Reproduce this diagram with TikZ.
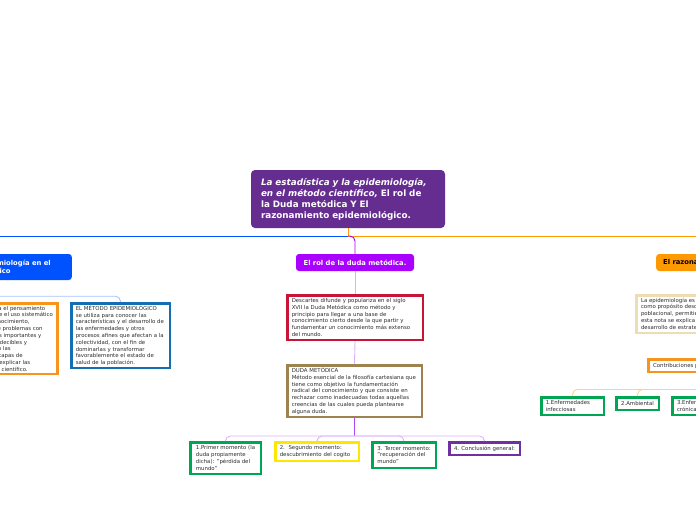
\documentclass[tikz,border=0pt]{standalone}
\usepackage{fontspec}
\setmainfont{DejaVu Sans}
\usetikzlibrary{positioning}
\definecolor{rootpurple}{RGB}{102,45,145}
\definecolor{rolpurple}{RGB}{170,0,255}
\definecolor{mapblue}{RGB}{0,82,255}
\definecolor{maporange}{RGB}{255,153,0}
\definecolor{boxred}{RGB}{200,20,55}
\definecolor{boxbrown}{RGB}{160,130,80}
\definecolor{boxgreen}{RGB}{0,166,81}
\definecolor{boxyellow}{RGB}{255,230,0}
\definecolor{boxviolet}{RGB}{112,48,160}
\definecolor{boxblue}{RGB}{20,110,180}
\definecolor{boxorange}{RGB}{247,148,29}
\definecolor{boxtan}{RGB}{238,220,180}
\definecolor{linkblue}{RGB}{165,195,255}
\definecolor{linkpurple}{RGB}{222,175,250}
\definecolor{linkorange}{RGB}{255,210,140}
\definecolor{stemviolet}{RGB}{175,70,250}
\definecolor{textgray}{RGB}{45,45,45}
\newcommand{\tinyfont}{\fontsize{5.4}{6.8}\selectfont}
\newcommand{\branchfont}{\fontsize{6.8}{8}\selectfont\bfseries}

\begin{document}
\begin{tikzpicture}[x=1pt,y=-1pt,
 topic/.style={rounded corners=3pt,text=white,font=\branchfont,inner xsep=7pt,
 inner ysep=1pt,minimum height=17pt},
 card/.style={draw,line width=2.5pt,fill=white,align=left,font=\tinyfont,
 text=textgray,inner xsep=4.5pt,inner ysep=1.5pt},
 toplink/.style={line width=.9pt},
 sublink/.style={line width=.9pt,rounded corners=5pt}]
\useasboundingbox (0,0) rectangle (696,520);
\clip (0,0) rectangle (696,520);

% central topic
\node[fill=rootpurple,rounded corners=4pt,text=white,align=left,
 font=\fontsize{8.8}{11}\selectfont\bfseries,minimum width=194pt,minimum height=58pt,
 text width=174pt,inner xsep=10pt] (root) at (348,199)
 {\textit{La estadística y la epidemiología,}\\\textit{en el método científico,} El rol de\\la Duda metódica Y El\\razonamiento epidemiológico.};

% main branches
\node[topic,fill=mapblue,anchor=east,align=center,minimum height=26pt,inner xsep=21pt]
 (metodo) at (72,267) {La estadística y la epidemiología en el\\método científico};
\node[topic,fill=rolpurple,minimum width=118pt,align=center] (rol) at (355,262.5)
 {El rol de la duda metódica.};
\node[topic,fill=maporange,text=black,anchor=west] (razona) at (656,262.5)
 {El razonamiento epidemiológico.};

% left branch
\node[card,draw=boxorange,anchor=east,minimum height=70.5pt]
 (cientif) at (58.75,338.5)
 {El método científico expresa el pensamiento\\lógico y ordenado, mediante el uso sistemático\\de la observación y el reconocimiento,\\la formulación y solución de problemas con\\en hipótesis y en cuestiones importantes y\\que generan resultados predecibles y\\comprobables que justifican las\\las ideas, los conceptos y etapas de\\cada proceso, con el fin de explicar las\\causas a través del método científico.};
\node[card,draw=boxblue,minimum width=98.5pt,minimum height=64.5pt,text width=89.5pt]
 (epid) at (120.5,335.5)
 {EL MÉTODO EPIDEMIOLÓGICO\\se utiliza para conocer las\\características y el desarrollo de\\las enfermedades y otros\\procesos afines que afectan a la\\colectividad, con el fin de\\dominarlas y transformar\\favorablemente el estado de\\salud de la población.};

% middle branch
\node[card,draw=boxred,minimum width=135.5pt,minimum height=44.5pt,text width=126.5pt]
 (descartes) at (355,317.5)
 {Descartes difunde y populariza en el siglo\\XVII la Duda Metódica como método y\\principio para llegar a una base de\\conocimiento cierto desde la que partir y\\fundamentar un conocimiento más extenso\\del mundo.};
\node[card,draw=boxbrown,minimum width=134.5pt,minimum height=51.5pt,text width=125.5pt]
 (dudam) at (354.5,391)
 {DUDA METÓDICA\\Método esencial de la filosofía cartesiana que\\tiene como objetivo la fundamentación\\radical del conocimiento y que consiste en\\rechazar como inadecuadas todas aquellas\\creencias de las cuales pueda plantearse\\alguna duda.};
\node[card,draw=boxgreen,minimum width=70.5pt,minimum height=31.5pt]
 (c1) at (225.5,458) {1.Primer momento (la\\duda propiamente\\dicha): "pérdida del\\mundo"};
\node[card,draw=boxyellow,minimum width=83.5pt,minimum height=18.5pt,text width=74.5pt]
 (c2) at (317,451.5) {2.\ \ Segundo momento:\\descubrimiento del cogito};
\node[card,draw=boxgreen,minimum width=63.5pt,minimum height=25.5pt]
 (c3) at (404,455) {3. Tercer momento:\\"recuperación del\\mundo"};
\node[card,draw=boxviolet,minimum width=70.5pt,minimum height=12.5pt]
 (c4) at (484.5,448.5) {4. Conclusión general:};

% right branch
\node[card,draw=boxtan,anchor=west,minimum height=37.5pt]
 (tan) at (635.25,314)
 {La epidemiología es una disciplina que tiene\\como propósito describir y explicar la salud\\poblacional, permitiendo identificar sus factores.\\esta nota se explica su importancia en el\\desarrollo de estrategias de salud pública.};
\node[card,draw=boxorange,anchor=west,minimum height=12.5pt] (contrib) at (647.25,365.5)
 {Contribuciones principales de la epidemiología};
\node[card,draw=boxgreen,minimum width=62.5pt,minimum height=17.5pt,text width=53.5pt]
 (g1) at (572.5,406) {1.Enfermedades\\infecciosas};
\node[card,draw=boxgreen,minimum width=42.5pt,minimum height=12.5pt]
 (g2) at (637.5,403.5) {2.Ambiental};
\node[card,draw=boxgreen,anchor=west,minimum height=17.5pt]
 (g3) at (671.25,406) {3.Enfermedades\\crónicas};

% connectors
\coordinate (hub) at (348,236);
\draw[toplink,mapblue] (hub) -| (metodo.north);
\draw[toplink,maporange] (root.south) -- (hub) -| (razona.north);
\draw[toplink,rolpurple,rounded corners=5pt] (hub) -| (rol.north);

\path (metodo.south) ++(0,16) coordinate (lbus);
\draw[sublink,linkblue] (metodo.south) -- (lbus) -| (epid.north);
\draw[sublink,linkblue] (lbus) -| (cientif.north);

\draw[toplink,linkpurple] (rol.south) -- (descartes.north);
\draw[toplink,linkpurple] (descartes.south) -- (dudam.north);
\path (dudam.south) ++(0,18) coordinate (mbus);
\draw[toplink,stemviolet] (dudam.south) -- (mbus);
\foreach \c in {c1,c2,c3,c4}
 \draw[sublink,linkpurple] (mbus) -| (\c.north);

\path (contrib.south) ++(0,16.5) coordinate (rbus);
\foreach \g in {g1,g2,g3}
 \draw[sublink,linkorange] (rbus) -| (\g.north);
\end{tikzpicture}
\end{document}
